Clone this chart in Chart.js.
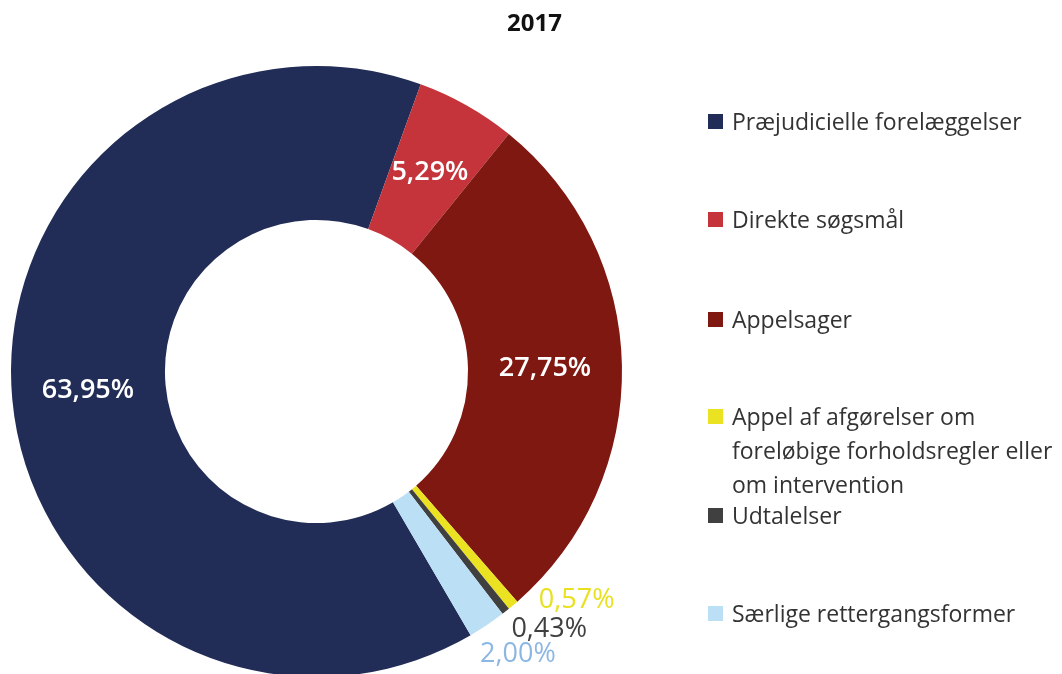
<!DOCTYPE html>
<html>
<head>
<meta charset="utf-8">
<script src="https://cdn.jsdelivr.net/npm/chart.js@4.4.1/dist/chart.umd.min.js"></script>
<style>
  html, body { margin:0; padding:0; background:#fff; overflow:hidden; }
  #wrap { position:relative; width:1062px; height:674px; overflow:hidden; font-family:"Open Sans", sans-serif; }
  #c { position:absolute; left:0; top:0; }
  #title { position:absolute; left:507px; top:7px; font-size:24px; font-weight:700; line-height:30px; color:#111; }
  .item { position:absolute; left:708px; width:360px; }
  .sw { position:absolute; left:0; top:10px; width:15px; height:15px; }
  .tx { margin-left:24px; width:332px; font-size:23px; line-height:34px; color:#333; }
</style>
</head>
<body>
<div id="wrap">
  <canvas id="c" width="1062" height="700"></canvas>
  <div id="title"></div>
  <div id="legend"></div>
</div>
<script>
// ---- data ----
const title = "2017";
const categories = [
  "Præjudicielle forelæggelser",
  "Direkte søgsmål",
  "Appelsager",
  "Appel af afgørelser om foreløbige forholdsregler eller om intervention",
  "Udtalelser",
  "Særlige rettergangsformer"
];
const shares = [63.95, 5.29, 27.75, 0.57, 0.43, 2.00];

// ---- styles ----
const sliceColors = ["#222d57", "#c5343a", "#801812", "#ebe222", "#404040", "#bbdff5"];
const labelColors = ["#ffffff", "#ffffff", "#ffffff", "#e8e020", "#404040", "#8db7e3"];
const labelInside = [true, true, true, false, false, false];
const labelShift = [[-1, -2], [1, 0], [0, 1], [63.5, -4.5], [43.5, 18], [31, 29]];
const legendCenters = [121.5, 219.5, 319.5, 416.5, 515.5, 613.5];

document.getElementById('title').textContent = title;
const leg = document.getElementById('legend');
categories.forEach((name, i) => {
  const it = document.createElement('div');
  it.className = 'item';
  it.style.top = (legendCenters[i] - 17.5) + 'px';
  const sw = document.createElement('div');
  sw.className = 'sw';
  sw.style.background = sliceColors[i];
  const tx = document.createElement('div');
  tx.className = 'tx';
  tx.textContent = name;
  it.appendChild(sw); it.appendChild(tx);
  leg.appendChild(it);
});

const fmt = v => v.toFixed(2).replace('.', ',') + '%';

const labelPlugin = {
  id: 'sliceLabels',
  afterDatasetsDraw(chart) {
    const ctx = chart.ctx;
    const meta = chart.getDatasetMeta(0);
    meta.data.forEach((arc, i) => {
      const p = arc.getProps(['x', 'y', 'startAngle', 'endAngle', 'innerRadius', 'outerRadius'], true);
      const mid = (p.startAngle + p.endAngle) / 2;
      const r = labelInside[i] ? (p.innerRadius + p.outerRadius) / 2 : p.outerRadius;
      const x = p.x + Math.cos(mid) * r + labelShift[i][0];
      const y = p.y + Math.sin(mid) * r + labelShift[i][1];
      ctx.save();
      ctx.font = (labelInside[i] ? '600 ' : '400 ') + '27px "Open Sans"';
      ctx.fillStyle = labelColors[i];
      ctx.textAlign = 'center';
      ctx.textBaseline = 'middle';
      ctx.fillText(fmt(shares[i]), x, y);
      ctx.restore();
    });
  }
};

new Chart(document.getElementById('c'), {
  type: 'doughnut',
  data: {
    labels: categories,
    datasets: [{ data: shares, backgroundColor: sliceColors, borderWidth: 0 }]
  },
  options: {
    responsive: false,
    animation: false,
    devicePixelRatio: 1,
    rotation: 149.7,
    cutout: '49.6%',
    layout: { padding: { left: 11, top: 66, right: 440, bottom: 23 } },
    plugins: { legend: { display: false }, tooltip: { enabled: false }, title: { display: false } }
  },
  plugins: [labelPlugin]
});
</script>
</body>
</html>
